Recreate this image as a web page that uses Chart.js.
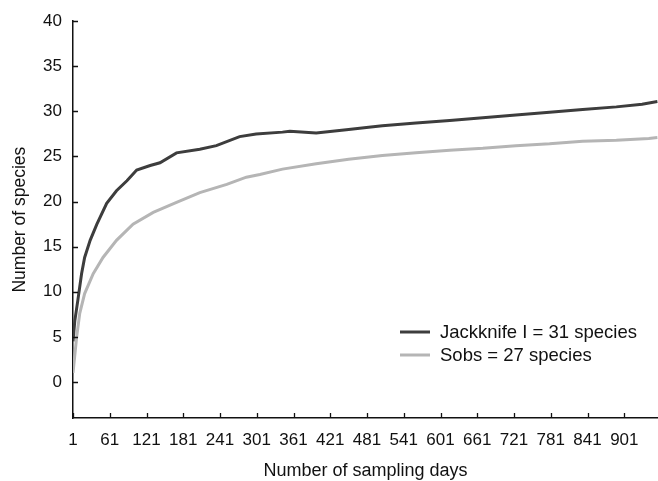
<!DOCTYPE html>
<html>
<head>
<meta charset="utf-8">
<script src="https://cdn.jsdelivr.net/npm/chart.js@4/dist/chart.umd.min.js"></script>
<style>
  html, body { margin: 0; padding: 0; background: #fff; }
  #wrap { width: 658px; height: 481px; position: relative; }
</style>
</head>
<body>
<div id="wrap"><canvas id="chart"></canvas></div>
<script>
// ── Data ──────────────────────────────────────────────────────────────────
const jackDays = [1, 4, 9, 15, 20, 29, 40, 56, 72, 89, 105, 127, 143, 170, 208, 235, 273, 300,
                  343, 355, 398, 451, 480, 506, 561, 616, 670, 724, 779, 833, 888, 930, 955];
const jackVals = [4.5, 6.8, 9.1, 12.0, 13.8, 15.7, 17.5, 19.8, 21.2, 22.3, 23.5, 24.0, 24.3, 25.4, 25.8, 26.2, 27.2, 27.5,
                  27.7, 27.8, 27.6, 28.0, 28.2, 28.4, 28.7, 29.0, 29.3, 29.6, 29.9, 30.2, 30.5, 30.8, 31.1];

const sobsDays = [1, 7, 12, 20, 34, 50, 72, 99, 132, 170, 208, 252, 284, 306, 343, 398, 451,
                  506, 561, 616, 670, 724, 779, 833, 888, 941, 955];
const sobsVals = [1.0, 5.0, 7.6, 9.8, 12.0, 13.8, 15.7, 17.5, 18.8, 19.9, 21.0, 21.9, 22.7, 23.0, 23.6, 24.2, 24.7,
                  25.1, 25.4, 25.7, 25.9, 26.2, 26.4, 26.7, 26.8, 27.0, 27.1];

const seriesLabels = ['Jackknife I = 31 species', 'Sobs = 27 species'];
const xTicks = [1, 61, 121, 181, 241, 301, 361, 421, 481, 541, 601, 661, 721, 781, 841, 901];
const yTicks = [0, 5, 10, 15, 20, 25, 30, 35, 40];
const xTitle = 'Number of sampling days';
const yTitle = 'Number of species';

// ── Helpers ───────────────────────────────────────────────────────────────
const FONT = 'Arial, "Liberation Sans", sans-serif';

function toPoints(days, vals) {
  return days.map((d, i) => ({ x: d, y: vals[i] }));
}

// inward tick marks, axis titles and the in-plot legend
const decorPlugin = {
  id: 'decor',
  afterDraw(chart) {
    const { ctx, chartArea: a, scales: { x, y } } = chart;
    ctx.save();
    ctx.strokeStyle = '#111';
    ctx.lineWidth = 1.3;
    ctx.beginPath();
    yTicks.forEach(v => {
      const py = Math.round(y.getPixelForValue(v)) + 0.5;
      ctx.moveTo(a.left, py); ctx.lineTo(a.left + 5, py);
    });
    xTicks.forEach(v => {
      const px = Math.round(x.getPixelForValue(v)) + 0.5;
      ctx.moveTo(px, a.bottom); ctx.lineTo(px, a.bottom - 5);
    });
    ctx.stroke();

    // axis titles
    ctx.fillStyle = '#111';
    ctx.font = `18px ${FONT}`;
    ctx.textAlign = 'center';
    ctx.textBaseline = 'alphabetic';
    ctx.fillText(xTitle, (a.left + a.right) / 2, 476);
    ctx.save();
    ctx.translate(25, (a.top + a.bottom) / 2);
    ctx.rotate(-Math.PI / 2);
    ctx.font = `17.5px ${FONT}`;
    ctx.fillText(yTitle, 0, 0);
    ctx.restore();

    // legend
    ctx.font = `18.5px ${FONT}`;
    ctx.textAlign = 'left';
    ctx.textBaseline = 'middle';
    chart.data.datasets.forEach((ds, i) => {
      const ly = 332 + i * 23;
      ctx.strokeStyle = ds.borderColor;
      ctx.lineWidth = 3;
      ctx.beginPath();
      ctx.moveTo(400, ly); ctx.lineTo(430, ly);
      ctx.stroke();
      ctx.fillStyle = '#111';
      ctx.fillText(ds.label, 440, ly + 1);
    });
    ctx.restore();
  }
};

// ── Chart ─────────────────────────────────────────────────────────────────
new Chart(document.getElementById('chart'), {
  type: 'line',
  data: {
    datasets: [
      {
        label: seriesLabels[0],
        data: toPoints(jackDays, jackVals),
        borderColor: '#3d3d3d',
        borderWidth: 3,
        pointRadius: 0,
        tension: 0,
      },
      {
        label: seriesLabels[1],
        data: toPoints(sobsDays, sobsVals),
        borderColor: '#b5b5b5',
        borderWidth: 3,
        pointRadius: 0,
        tension: 0,
      },
    ]
  },
  options: {
    responsive: true,
    maintainAspectRatio: false,
    animation: false,
    layout: { padding: { top: 20, right: 0, bottom: 0, left: 0 } },
    plugins: { legend: { display: false }, tooltip: { enabled: false } },
    scales: {
      x: {
        type: 'linear',
        min: 1,
        max: 956,
        afterBuildTicks: s => { s.ticks = xTicks.map(v => ({ value: v })); },
        afterFit: s => { s.height = 63; },
        grid: { display: false, drawTicks: false },
        border: { display: true, color: '#111', width: 1.5 },
        ticks: { color: '#111', padding: 12, maxRotation: 0, autoSkip: false,
                 font: { family: FONT, size: 17 } },
      },
      y: {
        min: -4,
        max: 40,
        afterBuildTicks: s => { s.ticks = yTicks.map(v => ({ value: v })); },
        afterFit: s => { s.width = 73; },
        grid: { display: false, drawTicks: false },
        border: { display: true, color: '#111', width: 1.5 },
        ticks: { color: '#111', padding: 11, font: { family: FONT, size: 17 } },
      }
    }
  },
  plugins: [decorPlugin]
});
</script>
</body>
</html>
